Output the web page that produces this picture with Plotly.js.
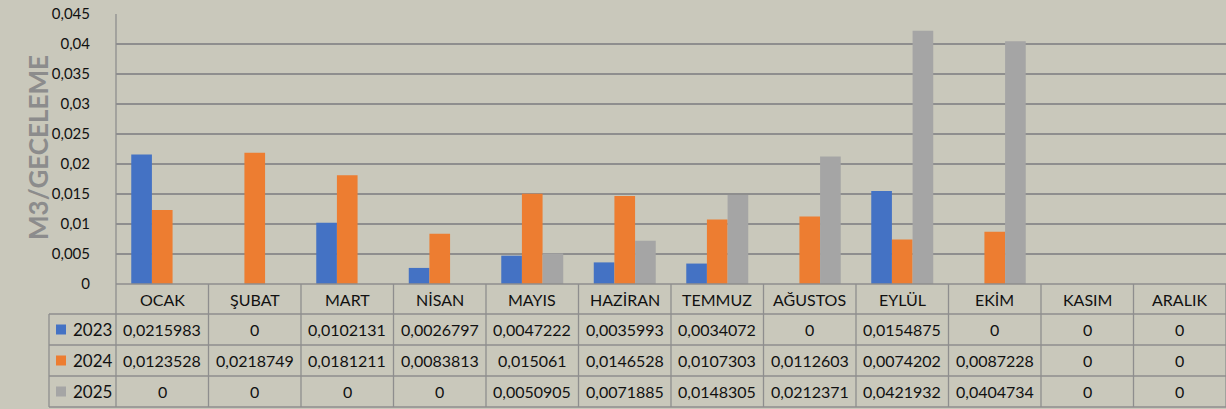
<!DOCTYPE html>
<html><head><meta charset="utf-8">
<script src="https://cdn.plot.ly/plotly-3.0.1.min.js"></script>
<style>html,body{margin:0;padding:0;background:#C9C8BB;}#chart{width:1226px;height:409px;}</style>
</head><body><div id="chart"></div>
<script>
const months = ["OCAK","ŞUBAT","MART","NİSAN","MAYIS","HAZİRAN","TEMMUZ","AĞUSTOS","EYLÜL","EKİM","KASIM","ARALIK"];
const seriesNames = ["2023","2024","2025"];
const v2023 = [0.0215983,0,0.0102131,0.0026797,0.0047222,0.0035993,0.0034072,0,0.0154875,0,0,0];
const v2024 = [0.0123528,0.0218749,0.0181211,0.0083813,0.015061,0.0146528,0.0107303,0.0112603,0.0074202,0.0087228,0,0];
const v2025 = [0,0,0,0,0.0050905,0.0071885,0.0148305,0.0212371,0.0421932,0.0404734,0,0];
const colors = ["#4472C4","#ED7D31","#A5A5A5"];
const allVals = [v2023,v2024,v2025];

const W=1226,H=409,L=116,R=0,T=14,B=125;
const pw=W-L-R, ph=H-T-B;
const px=x=>(x-L)/pw;          // pixel -> paper x
const py=y=>(H-B-y)/ph;        // pixel -> paper y

const traces = allVals.map((vals,i)=>({
  type:'bar', x:months.map((m,j)=>j), y:vals, name:seriesNames[i],
  marker:{color:colors[i]}, hoverinfo:'skip'
}));

const gridColor="#8E8E8E";
const shapes=[], annotations=[];
const rowY=[284,314,345,376,407];
shapes.push({type:'line',xref:'paper',yref:'paper',x0:0,x1:1,y0:py(284),y1:py(284),line:{color:gridColor,width:1.3}});
for(let k=1;k<rowY.length;k++){
  shapes.push({type:'line',xref:'paper',yref:'paper',x0:px(49),x1:1,y0:py(rowY[k]),y1:py(rowY[k]),line:{color:gridColor,width:1.3}});
}
shapes.push({type:'line',xref:'paper',yref:'paper',x0:px(49),x1:px(49),y0:py(314),y1:py(407),line:{color:gridColor,width:1.3}});
shapes.push({type:'line',xref:'paper',yref:'paper',x0:0,x1:0,y0:py(407),y1:1,line:{color:gridColor,width:1.3}});
for(let j=1;j<=months.length;j++){
  shapes.push({type:'line',xref:'x',yref:'paper',x0:j-0.5,x1:j-0.5,y0:py(407),y1:py(284),line:{color:gridColor,width:1.3}});
}
const font={family:'Lato, "Open Sans", sans-serif',size:16,color:'#111'};
const headFont={family:'Lato, "Open Sans", sans-serif',size:16,color:'#111',weight:300};
const tickFont={family:'Lato, "Open Sans", sans-serif',size:15,color:'#111'};
months.forEach((m,j)=>annotations.push({xref:'x',yref:'paper',x:j,y:py(299),xanchor:'center',yanchor:'middle',text:m,showarrow:false,font:font}));
const rowCenters=[329.5,360.5,391.5];
allVals.forEach((vals,i)=>{
  vals.forEach((v,j)=>annotations.push({xref:'x',yref:'paper',x:j,y:py(rowCenters[i]),xanchor:'center',yanchor:'middle',text:String(v).replace('.',','),showarrow:false,font:font}));
  shapes.push({type:'rect',xref:'paper',yref:'paper',x0:px(56),x1:px(66),y0:py(rowCenters[i]+5),y1:py(rowCenters[i]-5),fillcolor:colors[i],line:{width:0}});
  annotations.push({xref:'paper',yref:'paper',x:px(71),xanchor:'left',yanchor:'middle',y:py(rowCenters[i]),text:seriesNames[i],showarrow:false,font:{family:'Lato, "Open Sans", sans-serif',size:17,color:'#111'}});
});
annotations.push({xref:'paper',yref:'paper',x:px(38),y:py(148),xanchor:'center',yanchor:'middle',textangle:-90,text:'M3/GECELEME',showarrow:false,font:{family:'Lato, "Open Sans", sans-serif',size:26,color:'#8C8C8C',weight:'bold'}});

const layout={
  width:W,height:H,margin:{l:L,r:R,t:T,b:B,pad:0},
  paper_bgcolor:'#C9C8BB',plot_bgcolor:'#C9C8BB',
  showlegend:false,separators:',.',
  barmode:'group',bargap:0.33,bargroupgap:0,
  xaxis:{type:'linear',range:[-0.5,11.5],showticklabels:false,showgrid:false,zeroline:false,fixedrange:true},
  yaxis:{range:[0,0.045],dtick:0.005,tick0:0,showgrid:true,gridcolor:gridColor,gridwidth:1.3,zeroline:false,
    ticks:'',ticklabelstandoff:25,tickfont:tickFont,showline:false},
  shapes:shapes,annotations:annotations,
  font:font
};
Plotly.newPlot('chart',traces,layout,{staticPlot:true});
</script></body></html>
